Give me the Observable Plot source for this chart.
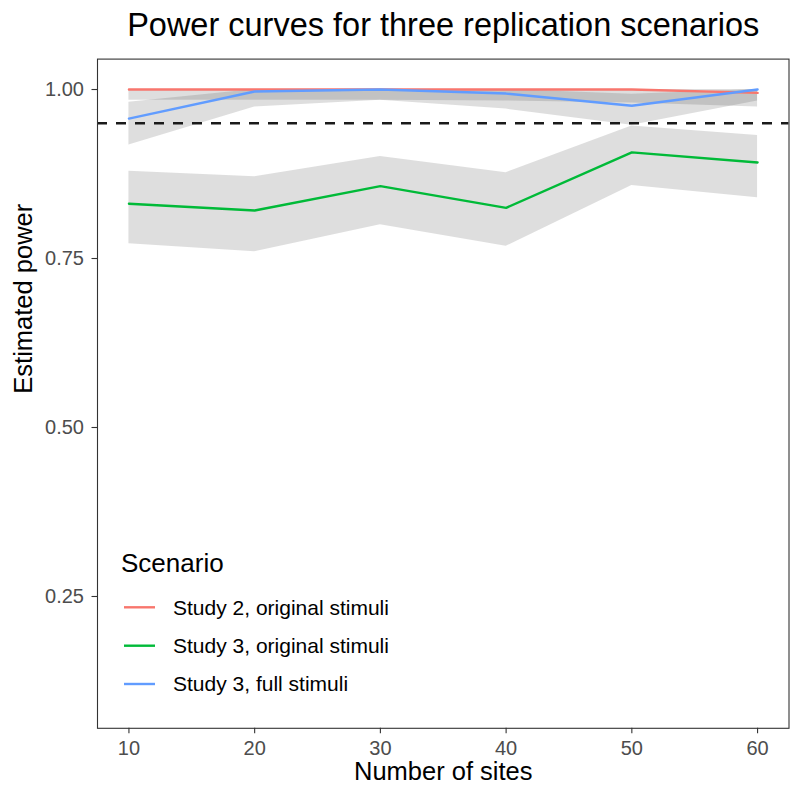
<!DOCTYPE html>
<html>
<head>
<meta charset="utf-8">
<script src="https://cdn.jsdelivr.net/npm/d3@7"></script>
<script src="https://cdn.jsdelivr.net/npm/@observablehq/plot@0.6"></script>
<style>
  html, body { margin: 0; padding: 0; background: #fff; }
  #wrap { position: relative; width: 791px; height: 786px; font-family: "Liberation Sans", Arial, Helvetica, sans-serif; }
  #legend { position: absolute; left: 0; top: 0; pointer-events: none; }
</style>
</head>
<body>
<div id="wrap"></div>
<script>
// ---- data ----
const sites = [10, 20, 30, 40, 50, 60];
const scenarios = ["Study 2, original stimuli", "Study 3, original stimuli", "Study 3, full stimuli"];
const colors = ["#F8766D", "#00BA38", "#619CFF"];

const powerS2orig = [1.000, 1.000, 1.000, 1.000, 1.000, 0.995];
const lowerS2orig = [0.984, 0.984, 0.984, 0.983, 0.980, 0.974];
const upperS2orig = [1.000, 1.000, 1.000, 1.000, 1.000, 1.000];

const powerS3orig = [0.831, 0.821, 0.857, 0.825, 0.907, 0.892];
const lowerS3orig = [0.772, 0.760, 0.800, 0.768, 0.858, 0.840];
const upperS3orig = [0.879, 0.871, 0.901, 0.877, 0.946, 0.932];

const powerS3full = [0.957, 0.997, 1.000, 0.994, 0.976, 1.000];
const lowerS3full = [0.918, 0.974, 0.984, 0.971, 0.947, 0.983];
const upperS3full = [0.981, 1.000, 1.000, 1.000, 0.993, 1.000];

const threshold = 0.95;
const xTicks = [10, 20, 30, 40, 50, 60];
const yTicks = [0.25, 0.50, 0.75, 1.00];

const titleText = "Power curves for three replication scenarios";
const xTitle = "Number of sites";
const yTitle = "Estimated power";
const legendTitle = "Scenario";

// ---- table built from the arrays ----
const series = [
  [powerS2orig, lowerS2orig, upperS2orig],
  [powerS3orig, lowerS3orig, upperS3orig],
  [powerS3full, lowerS3full, upperS3full]
];
const rows = [];
scenarios.forEach((s, i) => {
  const [p, lo, hi] = series[i];
  sites.forEach((n, j) => rows.push({scenario: s, sites: n, power: p[j], lower: lo[j], upper: hi[j]}));
});

const W = 791, H = 786;
const chart = Plot.plot({
  width: W,
  height: H,
  marginTop: 58.6,
  marginBottom: 58.2,
  marginLeft: 97,
  marginRight: 2.5,
  style: {background: "#fff", fontFamily: "Liberation Sans, Arial, Helvetica, sans-serif", fontSize: "19px", overflow: "visible"},
  x: {domain: [7.5, 62.5]},
  y: {domain: [0.055, 1.045]},
  color: {domain: scenarios, range: colors},
  marks: [
    Plot.areaY(rows, {x: "sites", y1: "lower", y2: "upper", z: "scenario", fill: "#333", fillOpacity: 0.16}),
    Plot.ruleY([threshold], {stroke: "#1a1a1a", strokeWidth: 2.6, strokeDasharray: "10,9"}),
    Plot.line(rows, {x: "sites", y: "power", z: "scenario", stroke: "scenario", strokeWidth: 2.4}),
    Plot.frame({stroke: "#333", strokeWidth: 1.1}),
    Plot.axisX(xTicks, {tickSize: 5.5, tickPadding: 6.5, stroke: "#333", strokeWidth: 1.1, fill: "#4D4D4D", fontSize: 20, label: null, tickFormat: d3.format("d")}),
    Plot.axisY(yTicks, {tickSize: 5.5, tickPadding: 8, stroke: "#333", strokeWidth: 1.1, fill: "#4D4D4D", fontSize: 20, label: null, tickFormat: d3.format(".2f")}),
    Plot.text([yTitle], {frameAnchor: "left", rotate: -90, dx: -74, fontSize: 25.5, fill: "#000", lineAnchor: "middle"}),
    Plot.text([xTitle], {frameAnchor: "bottom", dy: 44, fontSize: 25.5, fill: "#000", lineAnchor: "middle"}),
    Plot.text([titleText], {frameAnchor: "top", dy: -33.6, fontSize: 32.5, fill: "#000", lineAnchor: "middle"})
  ]
});
const wrap = document.getElementById("wrap");
wrap.appendChild(chart);

// ---- legend (inside the panel, bottom-left) ----
const leg = d3.select(wrap).append("svg")
  .attr("id", "legend")
  .attr("width", W).attr("height", H)
  .style("font-family", "Liberation Sans, Arial, Helvetica, sans-serif");
leg.append("text")
  .attr("x", 121).attr("y", 571.5)
  .attr("font-size", 26).attr("fill", "#000")
  .text(legendTitle);
const keyY = [607.3, 645.7, 684];
scenarios.forEach((s, i) => {
  const g = leg.append("g");
  g.append("line")
    .attr("x1", 124).attr("x2", 155)
    .attr("y1", keyY[i]).attr("y2", keyY[i])
    .attr("stroke", colors[i]).attr("stroke-width", 2.4);
  g.append("text")
    .attr("x", 173).attr("y", keyY[i] + 7.4)
    .attr("font-size", 21).attr("fill", "#000")
    .text(s);
});
</script>
</body>
</html>
